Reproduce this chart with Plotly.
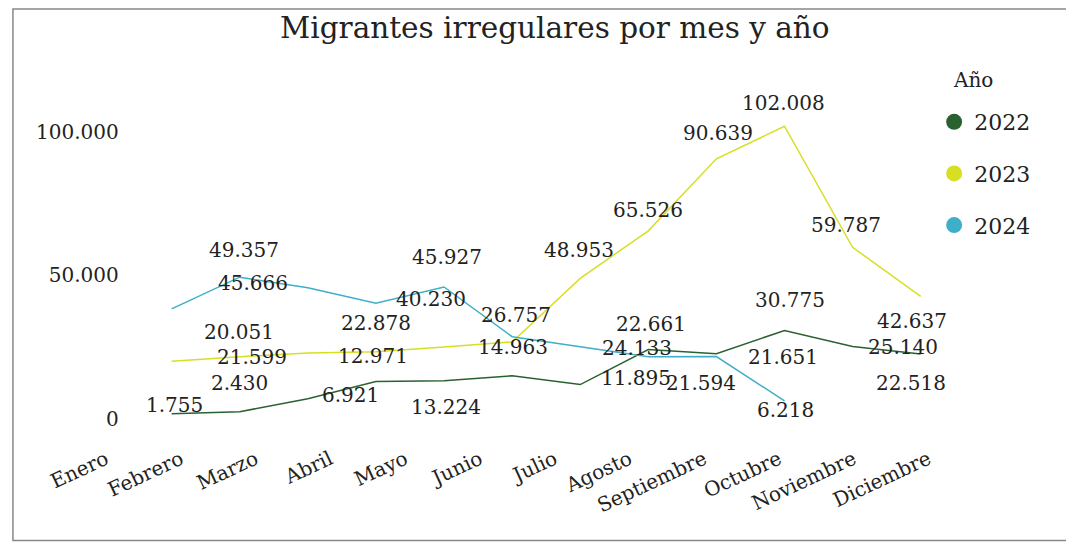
import plotly.graph_objects as go

months = ["Enero", "Febrero", "Marzo", "Abril", "Mayo", "Junio", "Julio",
          "Agosto", "Septiembre", "Octubre", "Noviembre", "Diciembre"]
years = ["2022", "2023", "2024"]
v2022 = [1755, 2430, 6921, 12971, 13224, 14963, 11895, 24133, 22661, 30775, 25140, 22518]
v2023 = [20051, 21599, 22878, 23300, 25000, 26757, 48953, 65526, 90639, 102008, 59787, 42637]
v2024 = [38300, 49357, 45666, 40230, 45927, 28600, 25100, 21594, 21651, 6218]
colors = ["#2a6130", "#d7df23", "#3faec9"]

# label offsets (px) from each point; None = label hidden in the original
off2022 = [(3, 9), (0, 29), (43, 4), (-3, 25), (2, -26), (1, 29), (56, 7),
           (-11, 1), (-65, 30), (6, 30), (50, 0), (-10, -29)]
off2023 = [(67, 29), (12, 0), (68, 30), None, None, (4, 27), (-1, 28),
           (0, 21), (2, 26), (-1, 23), (-7, 22), (-9, -25)]
off2024 = [None, (4, 27), (-55, 5), (55, 4), (3, 30), None, None,
           (53, -26), (67, 0), (1, -9)]

series = [v2022, v2023, v2024]
offsets = [off2022, off2023, off2024]

SERIF = "DejaVu Serif"
TXT = "#222222"


def fmt(v):
    return f"{v:,}".replace(",", ".")


fig = go.Figure()
for vals, col in zip(series, colors):
    fig.add_trace(go.Scatter(x=months[:len(vals)], y=vals, mode="lines",
                             line=dict(color=col, width=1.5), showlegend=False,
                             hoverinfo="skip"))
for name, col in zip(years, colors):
    fig.add_trace(go.Scatter(x=[None], y=[None], mode="markers", name=name,
                             legendgroup=name,
                             marker=dict(size=16, color=col)))
# axis carrying the month labels
fig.add_trace(go.Scatter(x=months, y=[None] * len(months), xaxis="x2", yaxis="y",
                         mode="lines", showlegend=False, hoverinfo="skip"))

annotations = []
for vals, offs in zip(series, offsets):
    for i, v in enumerate(vals):
        o = offs[i]
        if o is None:
            continue
        annotations.append(dict(x=months[i], y=v, xref="x", yref="y", text=fmt(v),
                                showarrow=False, xshift=o[0], yshift=o[1],
                                font=dict(family=SERIF, size=20, color=TXT)))
annotations.append(dict(text="Año", x=0.9989, y=1.026, xref="paper", yref="paper",
                        xanchor="center", yanchor="middle", showarrow=False,
                        font=dict(family=SERIF, size=20, color=TXT)))

fig.update_layout(
    width=1066, height=537,
    margin=dict(l=52, r=100, t=81, b=111.65),
    paper_bgcolor="white", plot_bgcolor="rgba(0,0,0,0)",
    title=dict(text="Migrantes irregulares por mes y año", x=0.513, y=0.9628,
               xref="container", yref="container", xanchor="center", yanchor="middle",
               font=dict(family=SERIF, size=29.5, color=TXT)),
    xaxis=dict(type="category", categoryorder="array", categoryarray=months,
               range=[-0.63, 11.6], domain=[0.07112, 0.98632],
               showticklabels=False, showgrid=False, showline=False, zeroline=False,
               ticks=""),
    xaxis2=dict(type="category", categoryorder="array", categoryarray=months,
                range=[-0.2, 11.2], domain=[0.0295, 0.9661], anchor="y",
                tickmode="array", tickvals=months, ticktext=months,
                tickangle=-25, ticklabelstandoff=10,
                showgrid=False, showline=False, zeroline=False,
                ticks="", tickfont=dict(family=SERIF, size=20, color=TXT)),
    yaxis=dict(range=[-5000, 115000], anchor="x", tickmode="array",
               tickvals=[0, 50000, 100000], ticktext=["0", "50.000", "100.000"],
               showgrid=False, showline=False, zeroline=False, ticks="",
               ticklabelstandoff=9,
               tickfont=dict(family=SERIF, size=20, color=TXT)),
    legend=dict(x=0.9562, y=0.965, xanchor="left", yanchor="top",
                font=dict(family=SERIF, size=22, color=TXT),
                traceorder="grouped", tracegroupgap=20,
                bgcolor="rgba(0,0,0,0)"),
    annotations=annotations,
    shapes=[dict(type="rect", xref="paper", yref="paper",
                 x0=-0.0561, x1=1.1028, y0=-0.3126, y1=1.2329,
                 line=dict(color="#888888", width=1.5), layer="below")],
)

fig.write_html("out.html")
